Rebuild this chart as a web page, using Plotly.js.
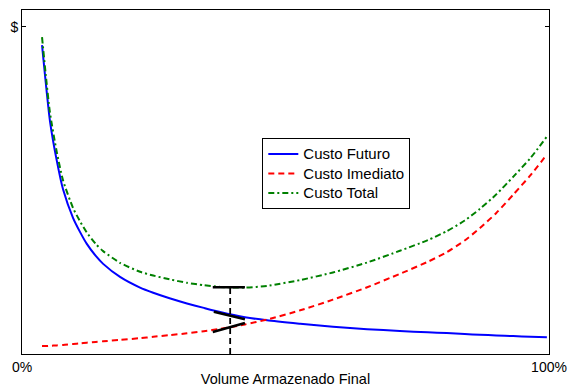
<!DOCTYPE html>
<html>
<head>
<meta charset="utf-8">
<script src="https://cdn.plot.ly/plotly-3.0.1.min.js"></script>
<style>html,body{margin:0;padding:0;background:#fff;}#chart{width:568px;height:387px;}</style>
</head>
<body>
<div id="chart"></div>
<script>
// Volume armazenado final (%)
const volume = [3.8, 4.5, 5.3, 6.6, 7.8, 9.7, 11.0, 12.3, 14.0, 15.4, 18.6, 22.4, 24.9, 28.0, 31.3, 34.5, 37.6, 42.3, 46.5, 52.8, 59.0, 65.5, 71.7, 77.0, 80.6, 84.0, 86.9, 90.0, 93.2, 96.5, 99.6];
const custoFuturo = [0.898, 0.790, 0.678, 0.562, 0.478, 0.395, 0.355, 0.320, 0.285, 0.262, 0.224, 0.193, 0.178, 0.162, 0.147, 0.134, 0.122, 0.107, 0.098, 0.088, 0.079, 0.072, 0.067, 0.063, 0.061, 0.058, 0.056, 0.054, 0.052, 0.050, 0.049];
const custoImediato = [0.023, 0.023, 0.024, 0.025, 0.026, 0.029, 0.031, 0.033, 0.035, 0.037, 0.041, 0.046, 0.050, 0.055, 0.060, 0.066, 0.073, 0.086, 0.100, 0.127, 0.158, 0.194, 0.233, 0.268, 0.296, 0.330, 0.366, 0.410, 0.463, 0.520, 0.580];
const custoTotal = [0.921, 0.813, 0.702, 0.587, 0.504, 0.424, 0.386, 0.353, 0.320, 0.299, 0.265, 0.239, 0.228, 0.217, 0.207, 0.200, 0.195, 0.193, 0.198, 0.215, 0.237, 0.266, 0.300, 0.331, 0.357, 0.388, 0.422, 0.464, 0.515, 0.570, 0.632];

// Ponto ótimo e retas tangentes
const otimoX = [39.5, 39.5];
const otimoY = [0, 0.194];
const tangTotalX = [36.2, 42.3];
const tangTotalY = [0.194, 0.194];
const tangFuturoX = [36.4, 42.3];
const tangFuturoY = [0.123, 0.101];
const tangImediatoX = [36.2, 42.3];
const tangImediatoY = [0.064, 0.090];

const xTickVals = [0, 100];
const xTickText = ['0%', '100%'];
const yTickVals = [0.9506];
const yTickText = ['$'];

const names = ['Custo Futuro', 'Custo Imediato', 'Custo Total'];
const legName = s => '<span style="font-size:15px">' + s + '</span>';

const traces = [
  {x: volume, y: custoFuturo, name: legName(names[0]), mode: 'lines', line: {color: '#0000ff', width: 2, shape: 'spline', smoothing: 0.6}},
  {x: volume, y: custoImediato, name: legName(names[1]), mode: 'lines', line: {color: '#ff0000', width: 2, dash: '6px,4px', shape: 'spline', smoothing: 0.6}},
  {x: volume, y: custoTotal, name: legName(names[2]), mode: 'lines', line: {color: '#008000', width: 2, dash: '6px,3px,2px,3px', shape: 'spline', smoothing: 0.6}},
  {x: tangTotalX, y: tangTotalY, mode: 'lines', showlegend: false, hoverinfo: 'skip', line: {color: '#000', width: 2.5}},
  {x: tangFuturoX, y: tangFuturoY, mode: 'lines', showlegend: false, hoverinfo: 'skip', line: {color: '#000', width: 2.5}},
  {x: tangImediatoX, y: tangImediatoY, mode: 'lines', showlegend: false, hoverinfo: 'skip', line: {color: '#000', width: 2.5}},
  {x: otimoX, y: otimoY, mode: 'lines', showlegend: false, hoverinfo: 'skip', line: {color: '#000', width: 1.8, dash: '6px,4px'}}
];

const font = {family: 'Liberation Sans, Arial, sans-serif', size: 14, color: '#000'};

const layout = {
  width: 568, height: 387,
  margin: {l: 22, r: 19, t: 10, b: 33},
  paper_bgcolor: '#fff', plot_bgcolor: '#fff',
  font: font,
  showlegend: true,
  legend: {
    x: 0.456, y: 0.627, xanchor: 'left', yanchor: 'top',
    bgcolor: '#fff', bordercolor: '#000', borderwidth: 1,
    font: {family: font.family, size: 12.7, color: '#000'},
    itemwidth: 30, tracegroupgap: 0
  },
  xaxis: {
    range: [0, 100], tickvals: xTickVals, ticktext: xTickText,
    showgrid: false, zeroline: false, showline: true, linecolor: '#000', linewidth: 1,
    mirror: 'ticks', ticks: 'inside', ticklen: 4, tickcolor: '#000',
    title: {text: 'Volume Armazenado Final', font: {family: font.family, size: 14.5, color: '#000'}, standoff: 2},
    automargin: false, fixedrange: true
  },
  yaxis: {
    range: [0, 1], tickvals: yTickVals, ticktext: yTickText,
    showgrid: false, zeroline: false, showline: true, linecolor: '#000', linewidth: 1,
    mirror: 'ticks', ticks: 'inside', ticklen: 4, tickcolor: '#000',
    automargin: false, fixedrange: true
  }
};

Plotly.newPlot('chart', traces, layout, {staticPlot: true, displayModeBar: false});
</script>
</body>
</html>
